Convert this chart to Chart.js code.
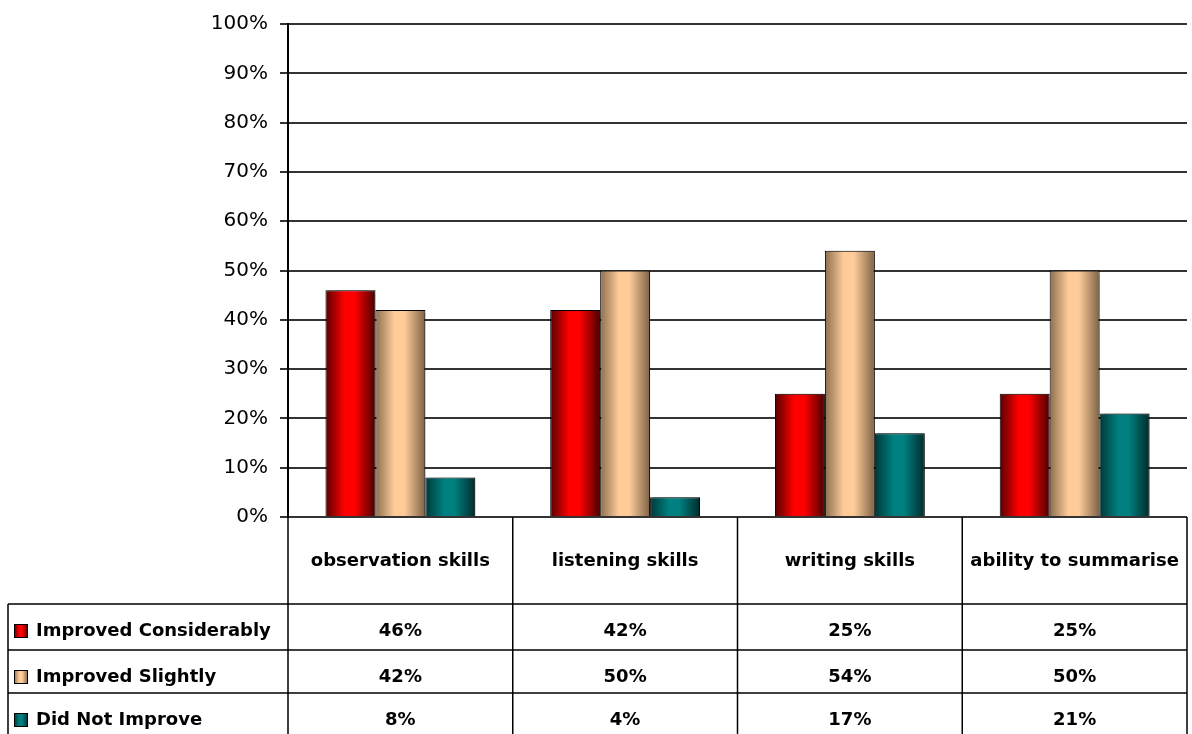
<!DOCTYPE html>
<html>
<head>
<meta charset="utf-8">
<script src="https://cdn.jsdelivr.net/npm/chart.js@4"></script>
<style>
  html, body { margin: 0; padding: 0; background: #fff; }
  #wrap { width: 1192px; height: 734px; }
</style>
</head>
<body>
<div id="wrap"><canvas id="skills_chart" width="1192" height="734"></canvas></div>
<script>
const categories = ['observation skills', 'listening skills', 'writing skills', 'ability to summarise'];
const seriesNames = ['Improved Considerably', 'Improved Slightly', 'Did Not Improve'];
const improvedConsiderably = [46, 42, 25, 25];
const improvedSlightly = [42, 50, 54, 50];
const didNotImprove = [8, 4, 17, 21];

// edge / middle / edge colours for the cylinder-ish shading
const shades = [
    ['#560000', '#ff0000', '#4a0000'],
    ['#8c6e4f', '#ffcc99', '#7d6246'],
    ['#003838', '#008080', '#002a2a'],
];

const catPct = 2 / 3;
const tableFont = 'bold 18px "DejaVu Sans"';
const rowTops = [604, 650, 693];

function makeGradient(ctx, x0, x1, s) {
    const g = ctx.createLinearGradient(x0, 0, x1, 0);
    g.addColorStop(0, s[0]);
    g.addColorStop(0.38, s[1]);
    g.addColorStop(0.58, s[1]);
    g.addColorStop(1, s[2]);
    return g;
}

function barFill(s) {
    return (c) => {
        const chart = c.chart;
        const xs = chart.scales.x;
        if (c.type !== 'data' || !xs || !xs.width) return s[1];
        const n = chart.data.datasets.length;
        const barW = xs.width / categories.length * catPct / n;
        const mid = xs.getPixelForValue(c.dataIndex) + (c.datasetIndex - (n - 1) / 2) * barW;
        return makeGradient(chart.ctx, mid - barW / 2, mid + barW / 2, s);
    };
}

const barShadow = {
    id: 'barShadow',
    beforeDatasetsDraw(chart) {
        const ctx = chart.ctx;
        ctx.save();
        ctx.shadowColor = 'rgba(0,0,0,0.3)';
        ctx.shadowOffsetX = 3;
        ctx.shadowOffsetY = 0;
        ctx.shadowBlur = 1;
    },
    afterDatasetsDraw(chart) {
        chart.ctx.restore();
    },
};

// data table under the plot, columns follow the category scale
const dataTable = {
    id: 'dataTable',
    afterDraw(chart) {
        const { ctx, chartArea } = chart;
        const xs = chart.scales.x;
        const colW = xs.width / categories.length;
        const edges = categories.map((c, i) => xs.getPixelForValue(i) - colW / 2);
        edges.push(chartArea.right);
        const left = 8;
        const bottom = chart.height + 4;

        ctx.save();
        ctx.strokeStyle = '#000';
        ctx.lineWidth = 1.5;
        ctx.beginPath();
        edges.forEach(x => {
            ctx.moveTo(x, chartArea.bottom);
            ctx.lineTo(x, bottom);
        });
        ctx.moveTo(left, rowTops[0]);
        ctx.lineTo(left, bottom);
        rowTops.forEach(y => {
            ctx.moveTo(left, y);
            ctx.lineTo(chartArea.right, y);
        });
        ctx.stroke();

        ctx.fillStyle = '#000';
        ctx.font = tableFont;
        ctx.textAlign = 'center';
        ctx.textBaseline = 'middle';
        categories.forEach((c, i) => {
            ctx.fillText(c, xs.getPixelForValue(i), (chartArea.bottom + rowTops[0]) / 2 + 1);
        });

        chart.data.datasets.forEach((ds, r) => {
            const y = rowTops[r] + 27;
            ctx.fillStyle = makeGradient(ctx, 14, 28, shades[r]);
            ctx.fillRect(14, y - 7, 14, 14);
            ctx.lineWidth = 1;
            ctx.strokeRect(14.5, y - 6.5, 13, 13);
            ctx.fillStyle = '#000';
            ctx.textAlign = 'left';
            ctx.fillText(ds.label, 36, y);
            ctx.textAlign = 'center';
            ds.data.forEach((v, i) => {
                ctx.fillText(v + '%', xs.getPixelForValue(i), y);
            });
        });
        ctx.restore();
    },
};

const seriesValues = [improvedConsiderably, improvedSlightly, didNotImprove];

new Chart(document.getElementById('skills_chart').getContext('2d'), {
    type: 'bar',
    data: {
        labels: categories,
        datasets: seriesValues.map((vals, i) => ({
            label: seriesNames[i],
            data: vals,
            backgroundColor: barFill(shades[i]),
            borderColor: '#000',
            borderWidth: 1,
            categoryPercentage: catPct,
            barPercentage: 1,
        })),
    },
    options: {
        responsive: false,
        animation: false,
        layout: { padding: { top: 21, right: 5, bottom: 217, left: 0 } },
        plugins: {
            legend: { display: false },
            tooltip: { enabled: false },
        },
        scales: {
            x: { display: false },
            y: {
                min: 0,
                max: 100,
                afterFit(scale) { scale.width = 288; },
                ticks: {
                    stepSize: 10,
                    padding: 12,
                    color: '#000',
                    font: { family: 'DejaVu Sans', size: 20 },
                    callback: v => v + '%',
                },
                grid: { color: '#333', lineWidth: 2, tickLength: 8 },
                border: { color: '#000', width: 2 },
            },
        },
    },
    plugins: [barShadow, dataTable],
});
</script>
</body>
</html>
